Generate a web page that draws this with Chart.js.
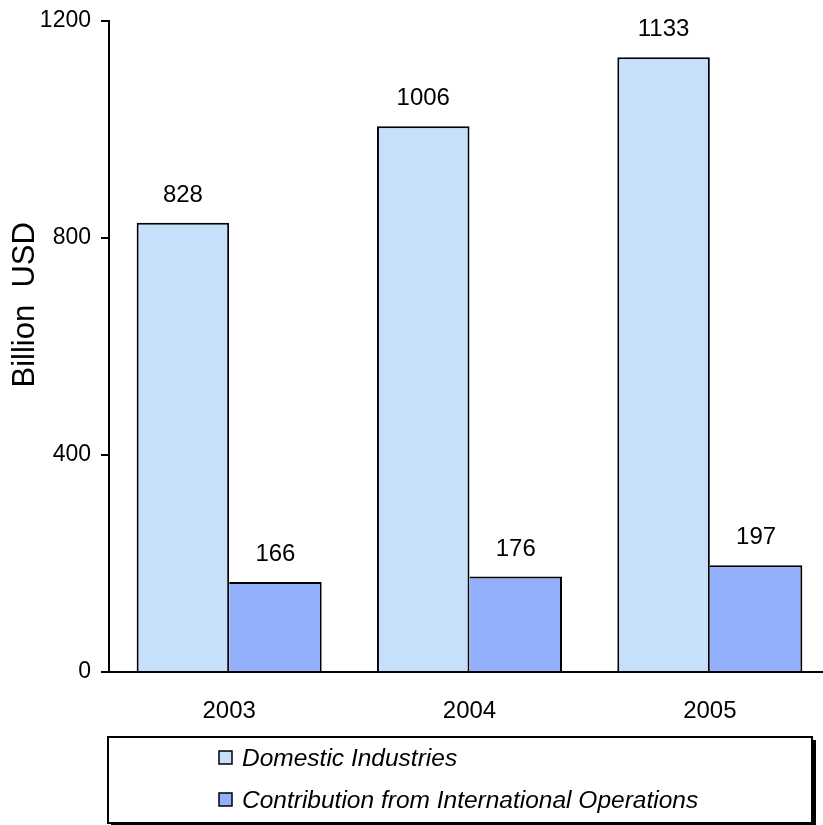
<!DOCTYPE html>
<html lang="en">
<head>
  <meta charset="utf-8">
  <title>Billion USD 2003-2005</title>
  <script src="https://cdn.jsdelivr.net/npm/chart.js@4.4.0/dist/chart.umd.min.js"></script>
  <style>
    html, body { margin: 0; padding: 0; background: #fff; overflow: hidden; }
    #wrap { width: 830px; height: 825px; position: relative; }
  </style>
</head>
<body>
<div id="wrap">
  <canvas id="chart"></canvas>
</div>
<script>
var years = ["2003", "2004", "2005"];
var seriesNames = ["Domestic Industries", "Contribution from International Operations"];
var domestic = [828, 1006, 1133];
var international = [166, 176, 197];
var yTicks = [0, 400, 800, 1200];
var yTitle = "Billion  USD";

var FONT = "'Liberation Sans', Arial, sans-serif";
var colors = ["#c6dffa", "#93b0fd"];

// numbers above each bar
var barLabels = {
  id: "barLabels",
  afterDatasetsDraw: function(chart) {
    var ctx = chart.ctx;
    ctx.save();
    ctx.font = "24px " + FONT;
    ctx.fillStyle = "#000";
    ctx.textAlign = "center";
    ctx.textBaseline = "alphabetic";
    chart.data.datasets.forEach(function(ds, i) {
      chart.getDatasetMeta(i).data.forEach(function(bar, j) {
        ctx.fillText(ds.data[j], bar.x, bar.y - 21);
      });
    });
    ctx.restore();
  }
};

// rotated y title and the framed legend underneath
var extras = {
  id: "extras",
  afterDraw: function(chart) {
    var ctx = chart.ctx;
    var area = chart.chartArea;
    ctx.save();
    ctx.font = "31px " + FONT;
    ctx.fillStyle = "#000";
    ctx.textAlign = "center";
    ctx.textBaseline = "middle";
    ctx.translate(25, area.top + 0.436 * (area.bottom - area.top));
    ctx.rotate(-Math.PI / 2);
    ctx.fillText(yTitle, 0, 0);
    ctx.restore();

    // legend frame with shadow
    var bx = 108, by = 737, bw = 704, bh = 86;
    ctx.save();
    ctx.fillStyle = "#000";
    ctx.fillRect(bx + bw, by + 3, 4, bh + 4);
    ctx.fillRect(bx + 3, by + bh, bw + 1, 4);
    ctx.fillStyle = "#fff";
    ctx.fillRect(bx, by, bw, bh);
    ctx.strokeStyle = "#000";
    ctx.lineWidth = 2;
    ctx.strokeRect(bx, by, bw, bh);

    ctx.font = "italic 24.5px " + FONT;
    ctx.textAlign = "left";
    ctx.textBaseline = "middle";
    var rowsY = [758, 800];
    chart.data.datasets.forEach(function(ds, i) {
      var cy = rowsY[i];
      ctx.fillStyle = ds.backgroundColor;
      ctx.fillRect(219, cy - 7, 13, 13);
      ctx.lineWidth = 1.5;
      ctx.strokeStyle = "#000";
      ctx.strokeRect(219, cy - 7, 13, 13);
      ctx.fillStyle = "#000";
      ctx.fillText(ds.label, 242, cy + 1);
    });
    ctx.restore();
  }
};

new Chart(document.getElementById("chart"), {
  type: "bar",
  data: {
    labels: years,
    datasets: [{
      label: seriesNames[0],
      data: domestic,
      backgroundColor: colors[0],
      borderColor: "#000",
      borderWidth: { top: 2, left: 2, right: 2, bottom: 0 }
    }, {
      label: seriesNames[1],
      data: international,
      backgroundColor: colors[1],
      borderColor: "#000",
      // shares the neighbour's right edge
      borderWidth: { top: 2, left: 0, right: 2, bottom: 0 }
    }]
  },
  options: {
    responsive: true,
    maintainAspectRatio: false,
    animation: false,
    layout: { padding: { top: 21, right: 0, left: 0, bottom: 0 } },
    datasets: {
      bar: { categoryPercentage: 0.77, barPercentage: 1.0 }
    },
    plugins: {
      legend: { display: false },
      tooltip: { enabled: false }
    },
    scales: {
      x: {
        grid: { display: false, drawTicks: false },
        border: { display: true, color: "#000", width: 2 },
        ticks: { color: "#000", font: { family: FONT, size: 24 }, padding: 25 },
        afterFit: function(scale) { scale.height = 153; }
      },
      y: {
        min: 0,
        max: 1200,
        afterBuildTicks: function(scale) {
          scale.ticks = yTicks.map(function(v) { return { value: v }; });
        },
        grid: { display: true, drawOnChartArea: false, drawTicks: true, tickLength: 8, color: "#000", lineWidth: 2 },
        border: { display: true, color: "#000", width: 2 },
        ticks: {
          color: "#000",
          font: { family: FONT, size: 23 },
          padding: 10,
          callback: function(v) { return String(v); }
        },
        afterFit: function(scale) {
          scale.width = 109;
          scale.paddingTop = 0;
          scale.paddingBottom = 0;
        }
      }
    }
  },
  plugins: [barLabels, extras]
});
</script>
</body>
</html>
